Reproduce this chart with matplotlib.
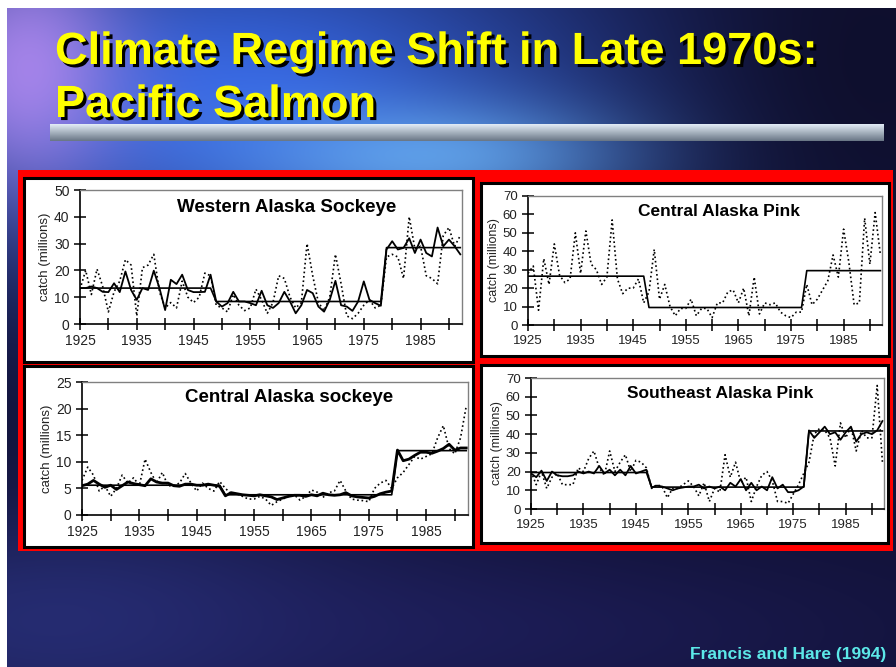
import numpy as np
import matplotlib.pyplot as plt
import matplotlib.patheffects as pe
from matplotlib.patches import Rectangle

W, H = 896, 667

years = np.arange(1925, 1993)

# Western Alaska sockeye
wa_catch = [13, 20, 11, 20.5, 14, 4.5, 12, 16, 24, 22,
            3, 21, 22, 26, 12, 6, 8, 6, 16, 10,
            8, 10, 19, 18, 7, 6, 4.5, 11, 7, 5,
            6, 13, 9, 4, 8, 18, 17, 10, 6, 8,
            30, 18, 8, 5, 10, 26, 15, 3, 2, 4,
            7, 9, 6, 7, 25, 26, 25, 17, 40, 28,
            29, 18, 17, 15, 33, 36, 29, 33]
wa_run = [13.4, 13.4, 14, 13.4, 12, 11.9, 15.2, 11.9, 19.6, 12.7,
          9, 13.4, 12.7, 19.9, 13.4, 5.2, 16.5, 14.9, 18.4, 12.7,
          11.9, 11.9, 12, 18.4, 8.4, 6.5, 7.8, 12, 8.4, 8.4,
          7.8, 7, 12.4, 7, 6, 7.8, 12, 8.4, 4, 7,
          12.7, 11.5, 6.5, 4.6, 9, 16.1, 7, 6.5, 4.9, 8.4,
          15.9, 9, 7.8, 6.8, 27.8, 30.9, 27.8, 28.4, 32, 26.5,
          31.5, 26.5, 25.2, 36, 29, 31.5, 29, 26]
wa_reg_x = [1925, 1948, 1949, 1978, 1979, 1992]
wa_reg_y = [13.4, 13.4, 8.4, 8.4, 28.5, 28.5]

# Central Alaska pink
cp_catch = [28, 32, 8, 36, 22, 44, 27, 23, 25, 50,
            28, 51, 33, 30, 22, 26, 57, 25, 17, 20,
            20, 25, 12, 18, 41, 14, 22, 10, 5, 9,
            9, 14, 5, 9, 9, 4, 12, 12, 18, 19,
            12, 20, 5, 26, 6, 12, 11, 12, 7, 5,
            4, 7, 7, 22, 11, 14, 19, 24, 38, 26,
            52, 34, 11, 12, 58, 33, 61, 38]
cp_reg_x = [1925, 1947, 1948, 1977, 1978, 1992]
cp_reg_y = [26.5, 26.5, 9.5, 9.5, 29.5, 29.5]

# Central Alaska sockeye
cs_catch = [6.5, 9, 7.5, 4.5, 5.5, 3.5, 5, 7.5, 6, 7,
            5.5, 10.5, 8, 6, 8, 5.5, 5.5, 6, 7.8, 6,
            4.5, 6, 5, 4.5, 6.3, 5, 4, 4, 3.5, 3,
            3, 3.5, 3, 1.8, 2.5, 3, 3.5, 3.8, 2.8, 3.5,
            4.7, 4.3, 3.3, 4.2, 4.5, 6.5, 4.5, 3, 2.8, 2.7,
            2.5, 5, 6, 6.5, 5, 7, 8, 9.5, 11, 10.5,
            11, 11.5, 14.5, 16.8, 12.5, 11.5, 14.5, 20.5]
cs_run = [5.5, 5.8, 6.5, 5.8, 5.2, 5.6, 4.8, 5.5, 6.2, 5.9,
          5.7, 5.5, 6.8, 6.2, 6.0, 6.0, 5.5, 5.4, 5.8, 5.8,
          5.6, 5.6, 5.8, 5.6, 5.4, 3.6, 4.2, 4.0, 3.8, 3.7,
          3.6, 3.8, 3.6, 3.4, 2.9, 3.2, 3.5, 3.7, 3.7, 3.5,
          3.8, 3.6, 4.1, 3.8, 3.7, 3.8, 4.2, 3.6, 3.4, 3.3,
          3.2, 3.5, 4.0, 4.3, 4.5, 12.2, 10.2, 10.5, 11.2, 11.8,
          11.8, 11.6, 12.0, 12.5, 13.3, 12.2, 12.6, 12.6]
cs_reg_x = [1925, 1949, 1950, 1979, 1980, 1992]
cs_reg_y = [5.6, 5.6, 3.8, 3.8, 12.1, 12.1]

# Southeast Alaska pink
se_catch = [20, 13, 20, 11, 17, 19, 13, 13, 13, 22,
            20, 27, 31, 22, 18, 31, 20, 25, 29, 20,
            26, 25, 22, 11, 13, 12, 6, 11, 11, 13,
            15, 12, 7, 14, 4, 11, 9, 29, 17, 25,
            14, 17, 4, 12, 18, 20, 15, 4, 4, 3,
            8, 13, 19, 25, 40, 43, 42, 38, 23, 46,
            38, 44, 31, 42, 38, 38, 66, 25]
se_run = [19, 17, 20.5, 15, 20, 18, 17.5, 17.5, 18, 20,
          19, 20, 19, 23, 19, 21, 18, 21, 18, 23,
          19, 20, 21, 11.5, 12.5, 12, 11, 10, 11, 11.5,
          12, 12, 13, 11, 12, 11, 12, 10, 14, 12,
          16, 10, 14, 10, 12, 10, 17, 11, 13, 9,
          9, 10, 12, 42, 38, 41, 44, 40, 41, 37,
          41, 44, 36, 40, 41, 40, 42, 47]
se_reg_x = [1925, 1947, 1948, 1977, 1978, 1992]
se_reg_y = [19.5, 19.5, 11.7, 11.7, 41.7, 41.7]

SANS = ['Liberation Sans', 'DejaVu Sans']


def px(x0, y0, x1, y1):
    return [x0 / W, 1 - y1 / H, (x1 - x0) / W, (y1 - y0) / H]


fig = plt.figure(figsize=(W / 100, H / 100), dpi=100)
fig.patch.set_facecolor('white')

# slide background
bg = fig.add_axes([0, 0, 1, 1])
bg.set_xlim(0, W)
bg.set_ylim(H, 0)
bg.axis('off')

yy, xx = np.mgrid[0:H, 0:W].astype(float)
img = np.ones((H, W, 3)) * np.array([0.07, 0.07, 0.22])


def blob(img, cx, cy, sx, sy, color, s):
    w = s * np.exp(-((xx - cx) ** 2 / (2 * sx ** 2) + (yy - cy) ** 2 / (2 * sy ** 2)))
    return img * (1 - w[..., None]) + np.array(color) * w[..., None]


img = blob(img, 230, 90, 260, 130, (0.22, 0.42, 0.92), 0.95)
img = blob(img, 20, 60, 70, 90, (0.72, 0.55, 0.95), 0.85)
img = blob(img, 430, 150, 140, 40, (0.45, 0.75, 1.0), 0.7)
img = blob(img, 860, 60, 120, 150, (0.05, 0.05, 0.15), 0.7)
img = blob(img, 60, 620, 220, 80, (0.2, 0.25, 0.6), 0.6)
img = blob(img, 450, 630, 300, 60, (0.14, 0.14, 0.42), 0.5)
bg.imshow(img, extent=(7, W, H, 8), aspect='auto', zorder=0)

# grey bar under title
bar = np.linspace(0, 1, 20)
bar_col = np.array([0.88, 0.92, 0.96]) * (1 - bar[:, None]) + np.array([0.42, 0.47, 0.53]) * bar[:, None]
bg.imshow(bar_col[:, None, :].repeat(2, axis=1), extent=(50, 884, 141, 124),
          aspect='auto', zorder=1)

shadow = [pe.SimplePatchShadow(offset=(2.2, -2.2), shadow_rgbFace='black', alpha=1.0),
          pe.Normal()]
bg.text(55, 64, "Climate Regime Shift in Late 1970s:", fontsize=32.5,
        fontweight='bold', color='#ffff00', family=SANS, va='baseline', zorder=3,
        path_effects=shadow)
bg.text(55, 117, "Pacific Salmon", fontsize=32.5,
        fontweight='bold', color='#ffff00', family=SANS, va='baseline', zorder=3,
        path_effects=shadow)

bg.text(886, 655, "Francis and Hare (1994)", ha='right', va='center', fontsize=12.5,
        fontweight='bold', color='#5ce8e8', family=SANS)

bg.add_patch(Rectangle((18, 170), 875, 381, fc='#ff0000', ec='none', zorder=2))
for (x0, y0, x1, y1) in [(24, 178, 473, 362), (481, 183, 889, 356),
                         (24, 366, 473, 547), (481, 365, 888, 543)]:
    bg.add_patch(Rectangle((x0, y0), x1 - x0, y1 - y0, fc='white', ec='black',
                           lw=2.2, zorder=3))


def panel(rect, ymax, ystep, title, catch, run, run_lw, reg_x, reg_y, tx, ty, fs, tfs):
    ax = fig.add_axes(px(*rect))
    ax.patch.set_alpha(0)
    ax.plot(years, catch, ':', color='black', lw=1.2)
    if run is not None:
        ax.plot(years, run, '-', color='black', lw=run_lw)
    ax.plot(reg_x, reg_y, '-', color='black', lw=1.2)
    ax.set_xlim(1925, 1992.3)
    ax.set_ylim(0, ymax)
    ax.set_xticks(np.arange(1925, 1990, 10))
    ax.set_xticks(np.arange(1930, 1992, 10), minor=True)
    ax.set_yticks(np.arange(0, ymax + 1, ystep))
    ax.tick_params(which='both', direction='inout', length=8, width=1.1,
                   labelsize=fs, colors='black', labelcolor='#222222')
    ax.tick_params(axis='x', pad=3)
    for s in ['left', 'bottom']:
        ax.spines[s].set_linewidth(1.2)
    for s in ['top', 'right']:
        ax.spines[s].set_color('#808080')
        ax.spines[s].set_linewidth(1.0)
    ax.set_ylabel("catch (millions)", fontsize=fs - 0.5, color='#222222', labelpad=2)
    ax.text(tx, ty, title, transform=ax.transAxes, ha='center', va='center',
            fontsize=tfs, fontweight='bold', family=SANS)
    for lab in ax.get_xticklabels() + ax.get_yticklabels():
        lab.set_family(SANS)
    ax.yaxis.label.set_family(SANS)
    return ax


panel((80, 190, 462, 324), 50, 10, "Western Alaska Sockeye", wa_catch, wa_run, 1.3,
      wa_reg_x, wa_reg_y, 0.54, 0.873, 10, 13.5)
panel((528, 196, 882, 325), 70, 10, "Central Alaska Pink", cp_catch, None, 1.3,
      cp_reg_x, cp_reg_y, 0.54, 0.876, 9.5, 12.5)
panel((82, 382, 468, 515), 25, 5, "Central Alaska sockeye", cs_catch, cs_run, 2.0,
      cs_reg_x, cs_reg_y, 0.536, 0.887, 10, 13.5)
panel((531, 378, 884, 509), 70, 10, "Southeast Alaska Pink", se_catch, se_run, 1.3,
      se_reg_x, se_reg_y, 0.535, 0.885, 9.5, 12.5)

fig.savefig("out.png", dpi=100)
